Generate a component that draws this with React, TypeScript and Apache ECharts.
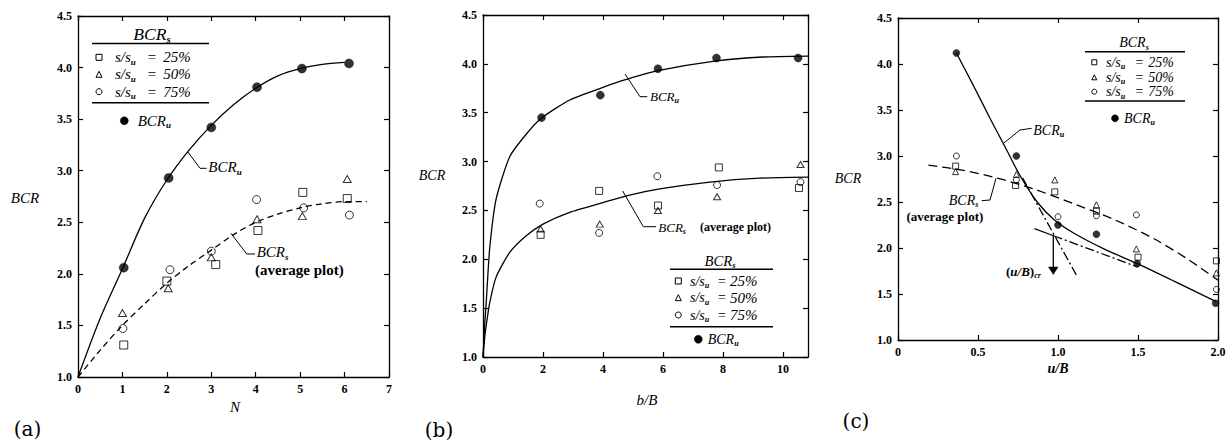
import React, { useEffect, useRef } from "react";
import * as echarts from "echarts";

const SERIF = "'Liberation Serif', 'Times New Roman', serif";

// ---------- Panel (a): BCR vs N ----------
const aXTicks = ["0", "1", "2", "3", "4", "5", "6", "7"];
const aUx = [1.03, 2.04, 3.0, 4.03, 5.04, 6.1];
const aU = [2.06, 2.93, 3.42, 3.81, 3.99, 4.04];
const a25x = [1.03, 2.0, 3.1, 4.05, 5.06, 6.06];
const a25 = [1.31, 1.93, 2.09, 2.42, 2.79, 2.73];
const a50x = [1.0, 2.03, 3.0, 4.03, 5.05, 6.06];
const a50 = [1.62, 1.86, 2.16, 2.53, 2.56, 2.92];
const a75x = [1.01, 2.07, 3.0, 4.02, 5.08, 6.11];
const a75 = [1.47, 2.04, 2.22, 2.72, 2.64, 2.57];
const aCurveUx = [0, 0.5, 1, 1.5, 2, 2.5, 3, 3.5, 4, 4.5, 5, 5.5, 6];
const aCurveU = [1.0, 1.57, 2.05, 2.54, 2.91, 3.2, 3.44, 3.64, 3.8, 3.92, 3.99, 4.03, 4.05];
const aCurveSx = [0, 0.5, 1, 1.5, 2, 2.5, 3, 3.5, 4, 4.5, 5, 5.5, 6, 6.5];
const aCurveS = [1.0, 1.26, 1.5, 1.71, 1.91, 2.08, 2.23, 2.38, 2.5, 2.58, 2.64, 2.68, 2.7, 2.7];

// ---------- Panel (b): BCR vs b/B ----------
const bXTicks = ["0", "2", "4", "6", "8", "10"];
const bUx = [1.95, 3.91, 5.83, 7.78, 10.5];
const bU = [3.45, 3.68, 3.95, 4.06, 4.06];
const b25x = [1.92, 3.87, 5.83, 7.86, 10.53];
const b25 = [2.25, 2.7, 2.55, 2.94, 2.73];
const b50x = [1.92, 3.89, 5.83, 7.8, 10.58];
const b50 = [2.31, 2.36, 2.5, 2.64, 2.97];
const b75x = [1.89, 3.87, 5.81, 7.8, 10.58];
const b75 = [2.57, 2.27, 2.85, 2.76, 2.79];
const bCurveUx = [0, 0.05, 0.11, 0.22, 0.44, 0.89, 1.44, 1.97, 2.89, 3.91, 4.78, 5.83, 7.78, 9.33, 10.83];
const bCurveU = [1.0, 1.3, 1.57, 2.1, 2.62, 3.05, 3.28, 3.45, 3.63, 3.75, 3.84, 3.93, 4.03, 4.07, 4.08];
const bCurveSx = [0, 0.05, 0.11, 0.22, 0.44, 0.89, 1.44, 2.0, 2.89, 4.0, 4.78, 5.89, 7.56, 9.22, 10.83];
const bCurveS = [1.0, 1.18, 1.33, 1.55, 1.82, 2.07, 2.24, 2.36, 2.48, 2.58, 2.65, 2.72, 2.79, 2.83, 2.84];

// ---------- Panel (c): BCR vs u/B ----------
const cXTicks = ["0", "0.5", "1.0", "1.5", "2.0"];
const cUx = [0.365, 0.74, 1.0, 1.24, 1.495, 1.985];
const cU = [4.12, 3.0, 2.25, 2.15, 1.83, 1.4];
const c25x = [0.36, 0.735, 0.98, 1.24, 1.5, 1.99];
const c25 = [2.89, 2.68, 2.61, 2.4, 1.9, 1.86];
const c50x = [0.36, 0.74, 0.98, 1.24, 1.49, 1.99];
const c50 = [2.83, 2.8, 2.74, 2.47, 1.99, 1.73];
const c75x = [0.365, 0.74, 1.0, 1.24, 1.49, 1.99];
const c75 = [3.0, 2.74, 2.34, 2.35, 2.36, 1.55];
const cCurveUx = [0.365, 0.473, 0.578, 0.672, 0.765, 0.87, 0.974, 1.1, 1.287, 1.495, 1.725, 1.985];
const cCurveU = [4.12, 3.76, 3.4, 3.09, 2.78, 2.5, 2.31, 2.16, 1.99, 1.83, 1.64, 1.42];
const cCurveSx = [0.19, 0.39, 0.62, 0.85, 1.1, 1.35, 1.6, 1.81, 2.0];
const cCurveS = [2.9, 2.85, 2.76, 2.64, 2.48, 2.31, 2.1, 1.88, 1.65];
const cTan1x = [0.778, 1.12];
const cTan1 = [2.763, 1.69];
const cTan2aX = [0.853, 0.972];
const cTan2a = [2.21, 2.133];
const cTan2bX = [0.972, 1.497];
const cTan2b = [2.133, 1.794];

const yTickLabels = ["1.0", "1.5", "2.0", "2.5", "3.0", "3.5", "4.0", "4.5"];
const legendRows = ["25%", "50%", "75%"];

const pairs = (xs: number[], ys: number[]) => xs.map((x, i) => [x, ys[i]]);

function pick(list: string[], v: number, start: number, step: number) {
  const k = (v - start) / step;
  if (Math.abs(k - Math.round(k)) > 1e-6) return "";
  return list[Math.round(k)] ?? "";
}

const LINE = { color: "#000", width: 1.3 };

function axisPair(gi: number, min: number, max: number, interval: number, fmt: (v: number) => string, fs: number, isX: boolean) {
  const common = {
    type: "value",
    gridIndex: gi,
    min,
    max,
    interval,
    axisLine: { show: true, onZero: false, lineStyle: LINE },
    axisTick: { show: true, inside: true, length: 5, lineStyle: { color: "#000", width: 1.2 } },
    splitLine: { show: false },
  };
  return [
    {
      ...common,
      position: isX ? "bottom" : "left",
      axisLabel: {
        show: true,
        margin: 6,
        color: "#000",
        fontFamily: SERIF,
        fontWeight: "bold",
        fontSize: fs,
        formatter: fmt,
        showMaxLabel: isX ? max % interval === 0 : true,
      },
    },
    { ...common, position: isX ? "top" : "right", axisLabel: { show: false } },
  ];
}

function curve(gi: number, xs: number[], ys: number[], dash: any = "solid", smooth: number = 0.4) {
  return {
    type: "line",
    xAxisIndex: gi * 2,
    yAxisIndex: gi * 2,
    data: pairs(xs, ys),
    smooth,
    showSymbol: false,
    symbol: "none",
    silent: true,
    z: 2,
    lineStyle: { color: "#000", width: 1.3, type: dash },
  };
}

function pts(gi: number, xs: number[], ys: number[], symbol: string, size: any, filled: boolean) {
  return {
    type: "scatter",
    xAxisIndex: gi * 2,
    yAxisIndex: gi * 2,
    data: pairs(xs, ys),
    symbol,
    symbolSize: size,
    silent: true,
    z: 3,
    itemStyle: filled
      ? { color: "#000", borderColor: "#000", borderWidth: 0.5 }
      : { color: "rgba(255,255,255,0)", borderColor: "#000", borderWidth: 1 },
  };
}

function R(size: number, subSize?: number) {
  const ss = subSize ?? Math.round(size * 0.6);
  const lh = Math.round(size * 1.2);
  return {
    i: { fontFamily: SERIF, fontStyle: "italic", fontSize: size, lineHeight: lh, fill: "#000" },
    bi: { fontFamily: SERIF, fontStyle: "italic", fontWeight: "bold", fontSize: size, lineHeight: lh, fill: "#000" },
    b: { fontFamily: SERIF, fontWeight: "bold", fontSize: size, lineHeight: lh, fill: "#000" },
    r: { fontFamily: SERIF, fontSize: size, lineHeight: lh, fill: "#000" },
    p: { fontFamily: "'DejaVu Serif', serif", fontSize: size, lineHeight: lh, fill: "#000" },
    s: { fontFamily: SERIF, fontStyle: "italic", fontWeight: "bold", fontSize: ss, lineHeight: ss, verticalAlign: "bottom", fill: "#000" },
  };
}

function tx(x: number, y: number, text: string, rich: any, align = "left", scaleX = 1) {
  return {
    type: "text",
    x,
    y,
    scaleX,
    silent: true,
    z: 10,
    style: { text, rich, align, verticalAlign: "middle", fontFamily: SERIF, fill: "#000" },
  };
}
function pl(points: number[][], w = 1) {
  return { type: "polyline", silent: true, z: 10, shape: { points }, style: { stroke: "#000", lineWidth: w, fill: "none" } };
}
function hl(x1: number, x2: number, y: number, w = 1.5) {
  return { type: "line", silent: true, z: 10, shape: { x1, y1: y, x2, y2: y }, style: { stroke: "#000", lineWidth: w } };
}
function marker(kind: string, cx: number, cy: number, s: number) {
  const h = s / 2;
  const st = { stroke: "#000", lineWidth: 1, fill: "none" };
  if (kind === "rect") return { type: "rect", silent: true, z: 10, shape: { x: cx - h, y: cy - h, width: s, height: s }, style: st };
  if (kind === "triangle")
    return { type: "polygon", silent: true, z: 10, shape: { points: [[cx, cy - h], [cx + h, cy + h], [cx - h, cy + h]] }, style: st };
  if (kind === "circle") return { type: "circle", silent: true, z: 10, shape: { cx, cy, r: h }, style: st };
  return { type: "circle", silent: true, z: 10, shape: { cx, cy, r: h }, style: { fill: "#000", stroke: "#000", lineWidth: 0.5 } };
}

type LegendCfg = {
  hx: number; hy: number; hs: number; hScale: number;
  lx0: number; lx1: number; ly1: number; ly2: number;
  rows: number[]; mx: number; ms: number;
  sx: number; ex: number; px: number; rs: number; ps: number;
  ux: number; uy: number; utx: number; us: number; ur: number;
};
function legend(c: LegendCfg) {
  const kinds = ["rect", "triangle", "circle"];
  const els: any[] = [];
  els.push(tx(c.hx, c.hy, "{i|BCR}{s|s}", R(c.hs), "center", c.hScale));
  els.push(hl(c.lx0, c.lx1, c.ly1));
  c.rows.forEach((y, i) => {
    els.push(marker(kinds[i], c.mx, y, c.ms));
    els.push(tx(c.sx, y, "{i|s/s}{s|u}", R(c.rs)));
    els.push(tx(c.ex, y, "{i|=}", R(c.rs), "center"));
    els.push(tx(c.px, y, "{i|" + legendRows[i] + "}", R(c.ps)));
  });
  els.push(hl(c.lx0, c.lx1, c.ly2));
  els.push(marker("filled", c.ux, c.uy, c.ur));
  els.push(tx(c.utx, c.uy, "{i|BCR}{s|u}", R(c.us)));
  return els;
}

function buildOption() {
  const yFmt = (v: number) => pick(yTickLabels, v, 1, 0.5);
  const xs = [
    ...axisPair(0, 0, 7, 1, (v) => pick(aXTicks, v, 0, 1), 12, true),
    ...axisPair(1, 0, 10.83, 2, (v) => pick(bXTicks, v, 0, 2), 12, true),
    ...axisPair(2, 0, 2, 0.5, (v) => pick(cXTicks, v, 0, 0.5), 12, true),
  ];
  const ys = [
    ...axisPair(0, 1, 4.5, 0.5, yFmt, 12, false),
    ...axisPair(1, 1, 4.5, 0.5, yFmt, 12, false),
    ...axisPair(2, 1, 4.5, 0.5, yFmt, 12, false),
  ];
  const series = [
    // (a)
    curve(0, aCurveUx, aCurveU, "solid", 0.3),
    curve(0, aCurveSx, aCurveS, [6, 4], 0.3),
    pts(0, a25x, a25, "rect", 8, false),
    pts(0, a50x, a50, "triangle", [8, 7], false),
    pts(0, a75x, a75, "circle", 8, false),
    pts(0, aUx, aU, "circle", 9, true),
    // (b)
    curve(1, bCurveUx, bCurveU, "solid", 0.2),
    curve(1, bCurveSx, bCurveS, "solid", 0.2),
    pts(1, b25x, b25, "rect", 7, false),
    pts(1, b50x, b50, "triangle", [7, 6], false),
    pts(1, b75x, b75, "circle", 7, false),
    pts(1, bUx, bU, "circle", 8, true),
    // (c)
    curve(2, cCurveUx, cCurveU, "solid", 0.3),
    curve(2, cCurveSx, cCurveS, [9, 5], 0.3),
    curve(2, cTan1x, cTan1, [9, 3, 2, 3], 0),
    curve(2, cTan2aX, cTan2a, "solid", 0),
    curve(2, cTan2bX, cTan2b, [9, 3, 2, 3], 0),
    pts(2, c25x, c25, "rect", 6, false),
    pts(2, c50x, c50, "triangle", [6, 6], false),
    pts(2, c75x, c75, "circle", 6, false),
    pts(2, cUx, cU, "circle", 7, true),
  ];

  const graphics: any[] = [
    // ----- (a)
    tx(25, 198, "{i|BCR}", R(15), "center"),
    tx(235, 407, "{i|N}", R(15), "center"),
    tx(27.5, 429, "{p|(a)}", R(20), "center"),
    pl([[187.7, 151.7], [200, 168.3], [206.7, 168.3]]),
    tx(208.3, 167, "{i|BCR}{s|u}", R(15)),
    pl([[231, 233.3], [246.7, 254], [255, 254]]),
    tx(256.7, 252, "{i|BCR}{s|s}", R(15)),
    tx(255, 269.5, "{b|(average plot)}", R(15)),
    ...legend({
      hx: 152, hy: 35, hs: 16, hScale: 1.1,
      lx0: 92, lx1: 209, ly1: 43.5, ly2: 102.7,
      rows: [57.3, 74.3, 91.7], mx: 99, ms: 6,
      sx: 115, ex: 151.7, px: 163.3, rs: 15, ps: 15,
      ux: 124.3, uy: 120.7, utx: 137.7, us: 15, ur: 8,
    }),
    // ----- (b)
    tx(432, 175, "{i|BCR}", R(14), "center"),
    tx(647, 400, "{i|b/B}", R(15), "center"),
    tx(439, 430, "{p|(b)}", R(20), "center"),
    pl([[625, 74], [640, 96.7], [647.3, 96.7]]),
    tx(650, 96.7, "{i|BCR}{s|u}", R(13)),
    pl([[622.7, 191], [643.3, 226.7], [656, 226.7]]),
    tx(658.3, 227.3, "{i|BCR}{s|s}", R(13)),
    tx(700, 227.3, "{b|(average plot)}", R(12)),
    ...legend({
      hx: 720, hy: 261, hs: 14, hScale: 1.05,
      lx0: 670, lx1: 773, ly1: 269.3, ly2: 326.7,
      rows: [281, 297.7, 315], mx: 678.3, ms: 6,
      sx: 690, ex: 721.7, px: 730, rs: 14, ps: 15,
      ux: 698.3, uy: 339.3, utx: 707.7, us: 14, ur: 8,
    }),
    // ----- (c)
    tx(848, 178, "{i|BCR}", R(14), "center"),
    tx(1058, 368, "{bi|u/B}", R(14), "center"),
    tx(856, 421, "{p|(c)}", R(20), "center"),
    pl([[1002.7, 144], [1020, 130], [1031.7, 128.3]]),
    tx(1033.3, 130, "{i|BCR}{s|u}", R(14)),
    pl([[996, 178.3], [990, 200], [981.7, 200.7]]),
    tx(978.3, 200, "{i|BCR}{s|s}", R(14), "right"),
    tx(983.3, 216.7, "{b|(average plot)}", R(13), "right"),
    tx(1006, 271.7, "{b|(}{bi|u/B}{b|)}{s|cr}", R(13)),
    { type: "line", silent: true, z: 10, shape: { x1: 1053.3, y1: 235, x2: 1053.3, y2: 268 }, style: { stroke: "#000", lineWidth: 1.3 } },
    { type: "polygon", silent: true, z: 10, shape: { points: [[1048.5, 267], [1058, 267], [1053.3, 274.5]] }, style: { fill: "#000", stroke: "#000", lineWidth: 0.5 } },
    ...legend({
      hx: 1134, hy: 42.7, hs: 14, hScale: 1.0,
      lx0: 1085, lx1: 1185, ly1: 51.7, ly2: 101,
      rows: [62.3, 77.3, 91.7], mx: 1094.3, ms: 5,
      sx: 1106, ex: 1139.3, px: 1148.3, rs: 14, ps: 14,
      ux: 1115, uy: 118.3, utx: 1124, us: 14, ur: 7,
    }),
  ];

  return {
    animation: false,
    backgroundColor: "#fff",
    grid: [
      { left: 78, top: 16, width: 311, height: 361, containLabel: false },
      { left: 483, top: 15, width: 325, height: 342, containLabel: false },
      { left: 898, top: 18, width: 320, height: 322, containLabel: false },
    ],
    xAxis: xs,
    yAxis: ys,
    series,
    graphic: { elements: graphics },
  };
}

export default function App() {
  const ref = useRef<HTMLDivElement>(null);
  useEffect(() => {
    if (!ref.current) return;
    const chart = echarts.init(ref.current, undefined, { renderer: "svg" });
    chart.setOption(buildOption() as any);
    return () => chart.dispose();
  }, []);
  return (
    <div
      ref={ref}
      style={{ position: "absolute", left: 0, top: 0, width: 1232, height: 443, background: "#fff" }}
    />
  );
}
